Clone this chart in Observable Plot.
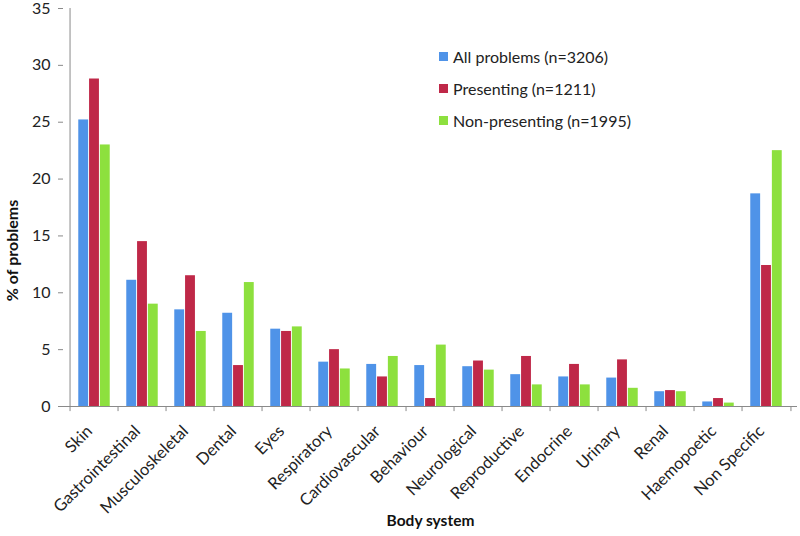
<!DOCTYPE html>
<html>
<head>
<meta charset="utf-8">
<script src="https://cdn.jsdelivr.net/npm/d3@7"></script>
<script src="https://cdn.jsdelivr.net/npm/@observablehq/plot@0.6"></script>
<style>
  html, body { margin: 0; padding: 0; background: #fff; }
  #wrap { position: relative; width: 800px; height: 536px; font-family: Lato, "Open Sans", sans-serif; }
  #legend { position: absolute; left: 439px; top: 40px; font-size: 16px; color: #222; }
  .row { display: flex; align-items: center; height: 32px; }
  .sw { width: 9px; height: 9px; margin-right: 5px; }
</style>
</head>
<body>
<div id="wrap"><div id="legend"></div></div>
<script>
const categories = ["Skin","Gastrointestinal","Musculoskeletal","Dental","Eyes","Respiratory","Cardiovascular","Behaviour","Neurological","Reproductive","Endocrine","Urinary","Renal","Haemopoetic","Non Specific"];
const seriesNames = ["All problems (n=3206)","Presenting (n=1211)","Non-presenting (n=1995)"];
const allProblems   = [25.2, 11.1, 8.5, 8.2, 6.8, 3.9, 3.7, 3.6, 3.5, 2.8, 2.6, 2.5, 1.3, 0.4, 18.7];
const presenting    = [28.8, 14.5, 11.5, 3.6, 6.6, 5.0, 2.6, 0.7, 4.0, 4.4, 3.7, 4.1, 1.4, 0.7, 12.4];
const nonPresenting = [23.0, 9.0, 6.6, 10.9, 7.0, 3.3, 4.4, 5.4, 3.2, 1.9, 1.9, 1.6, 1.3, 0.3, 22.5];
const yTicks = [0, 5, 10, 15, 20, 25, 30, 35];
const colors = ["#4f93e8", "#bf2848", "#8de03e"];

const seriesValues = [allProblems, presenting, nonPresenting];
const W = 800, H = 536, mL = 63, mR = 3, mT = 8, mB = 130;
const bw = (W - mL - mR) / categories.length;
const barW = 10.8;
const gray = "#8a8a8a";

const marks = [];
seriesValues.forEach((vals, s) => {
  const left = bw / 2 - 1.5 * barW + s * barW;
  marks.push(Plot.barY(categories.map((c, i) => ({c, v: vals[i]})), {
    x: "c", y: "v", fill: colors[s],
    insetLeft: left, insetRight: bw - left - barW
  }));
});
// axis lines and boundary ticks
marks.push(Plot.ruleY([0], {stroke: gray}));
marks.push(Plot.ruleX([categories[0]], {x: d => d, y1: 0, y2: 35, dx: -bw / 2, stroke: gray}));
marks.push(Plot.ruleX(categories, {x: d => d, y1: 0, y2: -0.45, dx: -bw / 2, stroke: gray}));
marks.push(Plot.ruleX([categories[categories.length - 1]], {x: d => d, y1: 0, y2: -0.45, dx: bw / 2, stroke: gray}));
marks.push(Plot.axisY({ticks: yTicks, tickSize: 5, tickPadding: 8, stroke: gray, label: null, fill: "#222", fontSize: 16}));
marks.push(Plot.axisX({tickSize: 0, tickRotate: -45, tickPadding: 22, dx: -5, label: null, fill: "#222", fontSize: 16.5}));
marks.push(Plot.text(["% of problems"], {frameAnchor: "left", textAnchor: "middle", dx: -51, dy: 43, rotate: -90, text: d => d, fontWeight: "bold", fontSize: 16, fill: "#111"}));
marks.push(Plot.text(["Body system"], {frameAnchor: "bottom", dy: 119, text: d => d, fontWeight: "bold", fontSize: 15.5, fill: "#111"}));

const chart = Plot.plot({
  width: W, height: H,
  marginLeft: mL, marginRight: mR, marginTop: mT, marginBottom: mB,
  style: {fontFamily: "Lato, 'Open Sans', sans-serif", fontSize: "16px", background: "#fff", overflow: "visible"},
  x: {type: "band", domain: categories, padding: 0},
  y: {domain: [0, 35]},
  marks
});
document.getElementById("wrap").prepend(chart);

const leg = document.getElementById("legend");
seriesNames.forEach((name, i) => {
  const row = document.createElement("div");
  row.className = "row";
  const sw = document.createElement("div");
  sw.className = "sw";
  sw.style.background = colors[i];
  const t = document.createElement("span");
  t.textContent = name;
  row.appendChild(sw); row.appendChild(t);
  leg.appendChild(row);
});
</script>
</body>
</html>
